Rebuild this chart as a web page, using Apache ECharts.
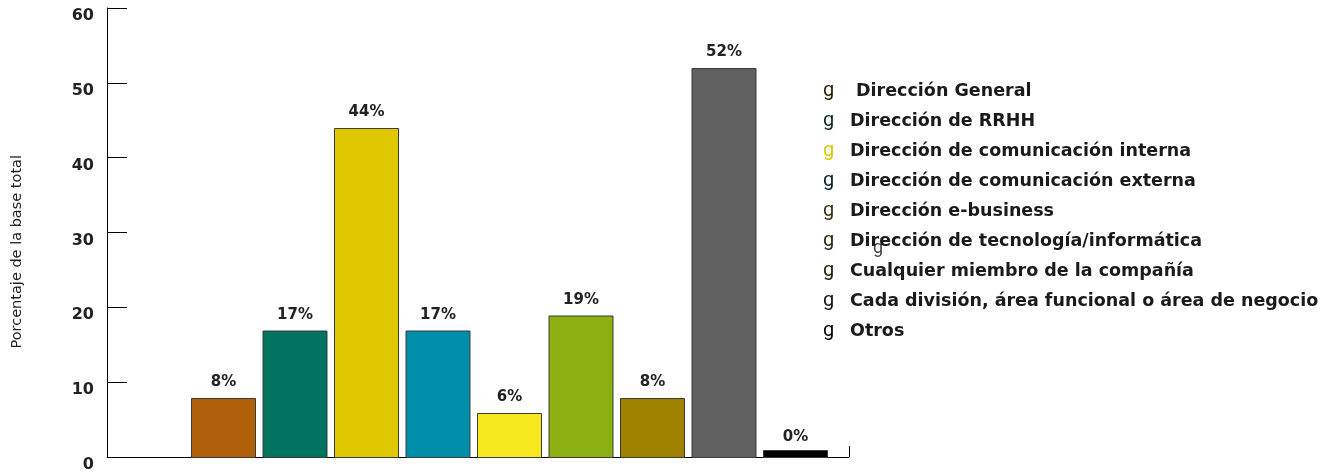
<!DOCTYPE html>
<html>
<head>
<meta charset="utf-8">
<script src="https://cdn.jsdelivr.net/npm/echarts@6/dist/echarts.min.js"></script>
<style>
  html, body { margin: 0; padding: 0; background: #fff; }
  #chart { width: 1334px; height: 473px; }
</style>
</head>
<body>
<div id="chart"></div>
<script>
// Responsables de la comunicación (porcentaje de la base total)
const categories = [
  ' Dirección General',
  'Dirección de RRHH',
  'Dirección de comunicación interna',
  'Dirección de comunicación externa',
  'Dirección e-business',
  'Dirección de tecnología/informática',
  'Cualquier miembro de la compañía',
  'Cada división, área funcional o área de negocio',
  'Otros'
];
const values = [8, 17, 44, 17, 6, 19, 8, 52, 0];
const barColors = ['#B06008', '#00735F', '#E0C800', '#008FAA', '#F8E820', '#8CB010', '#9E8200', '#606060', '#000000'];
const markerColors = ['#2a1c06', '#0e2a28', '#E0C800', '#0c2224', '#3a3212', '#2c2c12', '#2a2212', '#141414', '#000000'];
const yTicks = [0, 10, 20, 30, 40, 50, 60];
const yTitle = 'Porcentaje de la base total';

const FONT = '"DejaVu Sans", "Open Sans", sans-serif';
const MARK_FONT = 'Roboto, "DejaVu Sans", sans-serif';

// one series per category so each gets a legend entry; all share one slot per category
const series = categories.map((name, i) => {
  const last = i === values.length - 1;
  return {
    name: name,
    type: 'bar',
    xAxisIndex: 0,
    yAxisIndex: 1,
    barWidth: 65,
    barGap: '-100%',
    barMinHeight: last ? 8 : 0,
    data: values.map((v, j) => (j === i ? v : '-')),
    itemStyle: { color: barColors[i], borderColor: '#3a3a3a', borderWidth: 1 },
    label: {
      show: true,
      position: 'top',
      distance: last ? 5 : 8,
      formatter: '{c}%',
      fontFamily: FONT,
      fontWeight: 'bold',
      fontSize: 15,
      color: '#222'
    },
    emphasis: { disabled: true }
  };
});

const rich = { t: { fontFamily: FONT, fontWeight: 'bold', fontSize: 17.5, color: '#1a1a1a' } };
markerColors.forEach((c, i) => {
  rich['g' + i] = { fontFamily: MARK_FONT, fontSize: 20, color: c, width: 27 };
});

const chart = echarts.init(document.getElementById('chart'), null, { renderer: 'canvas' });
chart.setOption({
  animation: false,
  backgroundColor: '#ffffff',
  grid: [
    { left: 187.75, right: 502.75, top: 8, bottom: 15 },
    { left: 107, right: 485, top: 8, bottom: 15 }
  ],
  xAxis: [
    { type: 'category', gridIndex: 0, data: categories, show: false },
    {
      type: 'value', gridIndex: 1, min: 0, max: 1, interval: 1,
      axisLine: { show: true, lineStyle: { color: '#000', width: 1 } },
      axisTick: { show: true, inside: true, length: 11, lineStyle: { color: '#000' } },
      axisLabel: { show: false },
      splitLine: { show: false }
    }
  ],
  yAxis: [
    {
      type: 'value', gridIndex: 1, min: yTicks[0], max: yTicks[yTicks.length - 1], interval: 10,
      axisLine: { show: true, lineStyle: { color: '#000', width: 1 } },
      axisTick: { show: true, inside: true, length: 20, lineStyle: { color: '#000' } },
      axisLabel: {
        margin: 13, verticalAlign: 'top',
        fontFamily: FONT, fontWeight: 'bold', fontSize: 16, color: '#222'
      },
      splitLine: { show: false }
    },
    { type: 'value', gridIndex: 0, min: 0, max: 60, show: false, splitLine: { show: false } }
  ],
  legend: {
    orient: 'vertical',
    left: 817,
    top: 74,
    itemWidth: 0,
    itemHeight: 0,
    itemGap: 6,
    selectedMode: false,
    icon: 'rect',
    data: categories,
    formatter: function (name) {
      const i = categories.indexOf(name);
      return '{g' + i + '|g}{t|' + name + '}';
    },
    textStyle: { rich: rich, lineHeight: 24, padding: [0, 0, 0, -5] }
  },
  graphic: [
    {
      type: 'text', left: 10, top: 155, rotation: Math.PI / 2,
      style: { text: yTitle, fontFamily: FONT, fontSize: 14.5, fill: '#222' },
      originX: 0, originY: 0
    },
    {
      type: 'text', left: 873, top: 239,
      style: { text: 'g', fontFamily: MARK_FONT, fontSize: 18, fill: '#444' }
    }
  ],
  series: series
});
</script>
</body>
</html>
